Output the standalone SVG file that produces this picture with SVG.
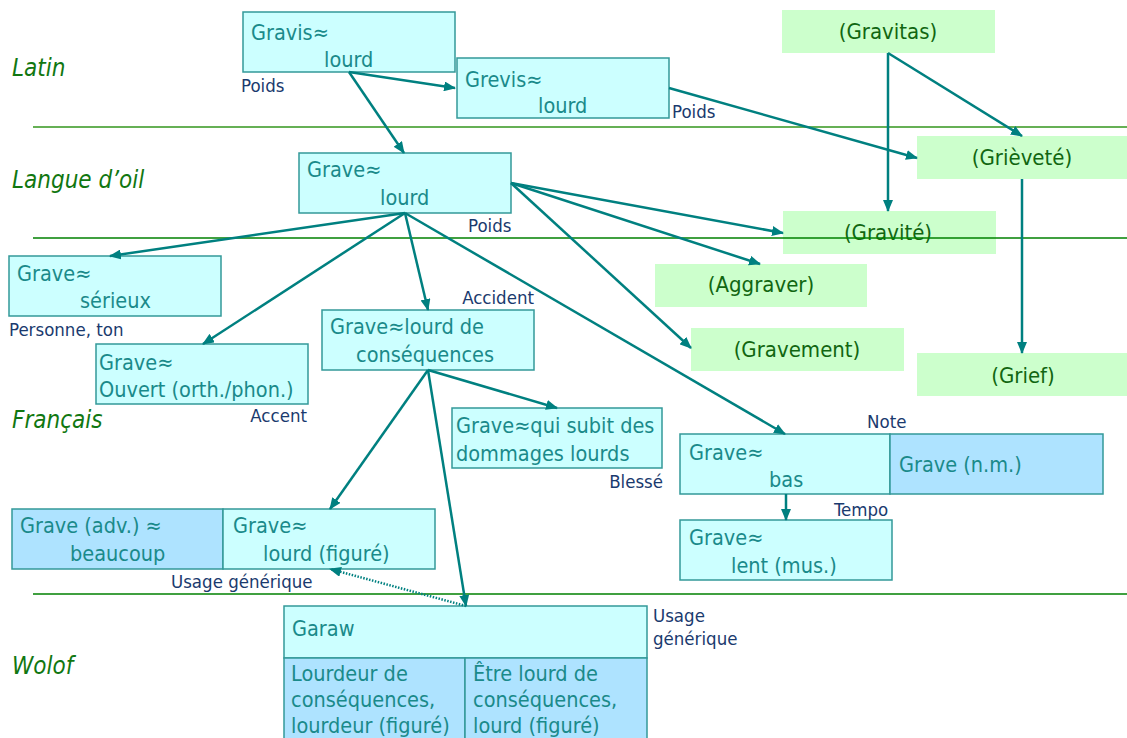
<svg xmlns="http://www.w3.org/2000/svg" width="1127" height="738" viewBox="0 0 1127 738">
  <style>
    .box { fill: #ccffff; stroke: #339999; stroke-width: 1.5; }
    .boxb { fill: #aee3ff; stroke: #339999; stroke-width: 1.5; }
    .gbox { fill: #ccffcc; }
    .t, .g, .lab, .lang { font-family: "DejaVu Sans Condensed", "DejaVu Sans", sans-serif; font-stretch: condensed; }
    .t { font-size: 21.5px; fill: #1a8a8a; }
    .g { font-size: 22px; fill: #116611; text-anchor: middle; }
    .lab { font-size: 18.5px; fill: #1a3a6e; }
    .r { text-anchor: end; }
    .lang { font-size: 24px; font-style: italic; fill: #117711; }
    .arr { stroke: #008080; stroke-width: 2.5; fill: none; marker-end: url(#ah); }
    .dot { stroke: #008080; stroke-width: 2.5; fill: none; stroke-dasharray: 1.5 1.5; marker-end: url(#ah); }
    .sep { stroke: #008000; stroke-width: 1.3; }
    .sep-top { stroke: #66b055; stroke-width: 2; }
  </style>
  <defs>
    <marker id="ah" viewBox="0 0 12 10" refX="11" refY="5" markerWidth="12" markerHeight="10" markerUnits="userSpaceOnUse" orient="auto">
      <path d="M0,0 L12,5 L0,10 z" fill="#008080"/>
    </marker>
  </defs>

  <!-- period labels -->
  <g id="periods">
    <text class="lang" x="12" y="76">Latin</text>
    <text class="lang" x="12" y="188">Langue d’oil</text>
    <text class="lang" x="12" y="428">Français</text>
    <text class="lang" x="12" y="674">Wolof</text>
  </g>

  <!-- derived words (green) -->
  <g id="gravitas"><rect class="gbox" x="782" y="10" width="213" height="43"/><text class="g" x="888" y="39">(Gravitas)</text></g>
  <g id="grievete"><rect class="gbox" x="917" y="136" width="210" height="43"/><text class="g" x="1022" y="165">(Grièveté)</text></g>
  <g id="gravite"><rect class="gbox" x="783" y="211" width="213" height="43"/><text class="g" x="888" y="240">(Gravité)</text></g>
  <g id="aggraver"><rect class="gbox" x="655" y="264" width="212" height="43"/><text class="g" x="761" y="292">(Aggraver)</text></g>
  <g id="gravement"><rect class="gbox" x="691" y="328" width="213" height="43"/><text class="g" x="797" y="357">(Gravement)</text></g>
  <g id="grief"><rect class="gbox" x="917" y="353" width="210" height="43"/><text class="g" x="1023" y="383">(Grief)</text></g>

  <!-- separators -->
  <g id="separators">
    <line class="sep-top" x1="33" y1="127" x2="1127" y2="127"/>
    <line class="sep" x1="33" y1="238" x2="1127" y2="238"/>
    <line class="sep" x1="33" y1="594" x2="1127" y2="594"/>
  </g>

  <!-- sense nodes -->
  <g id="gravis">
    <rect class="box" x="243" y="12" width="212" height="60"/>
    <text class="t" x="251" y="40">Gravis≈</text><text class="t" x="324" y="67">lourd</text>
    <text class="lab" x="241" y="92">Poids</text>
  </g>
  <g id="grevis">
    <rect class="box" x="457" y="58" width="212" height="60"/>
    <text class="t" x="465" y="87">Grevis≈</text><text class="t" x="538" y="113">lourd</text>
    <text class="lab" x="672" y="118">Poids</text>
  </g>
  <g id="grave-oil">
    <rect class="box" x="299" y="153" width="212" height="60"/>
    <text class="t" x="307" y="177">Grave≈</text><text class="t" x="380" y="205">lourd</text>
    <text class="lab" x="468" y="232">Poids</text>
  </g>
  <g id="grave-serieux">
    <rect class="box" x="9" y="256" width="212" height="60"/>
    <text class="t" x="17" y="281">Grave≈</text><text class="t" x="80" y="308">sérieux</text>
    <text class="lab" x="9" y="336">Personne, ton</text>
  </g>
  <g id="grave-ouvert">
    <rect class="box" x="96" y="344" width="212" height="60"/>
    <text class="t" x="99" y="370">Grave≈</text><text class="t" x="99" y="397">Ouvert (orth./phon.)</text>
    <text class="lab r" x="307" y="422">Accent</text>
  </g>
  <g id="grave-consequences">
    <rect class="box" x="322" y="310" width="212" height="60"/>
    <text class="t" x="330" y="334">Grave≈lourd de</text><text class="t" x="356" y="362">conséquences</text>
    <text class="lab r" x="534" y="304">Accident</text>
  </g>
  <g id="grave-dommages">
    <rect class="box" x="452" y="408" width="210" height="60"/>
    <text class="t" x="456" y="433">Grave≈qui subit des</text><text class="t" x="456" y="461">dommages lourds</text>
    <text class="lab r" x="663" y="488">Blessé</text>
  </g>
  <g id="grave-figure">
    <rect class="boxb" x="12" y="509" width="211" height="60"/>
    <rect class="box" x="223" y="509" width="212" height="60"/>
    <text class="t" x="20" y="533">Grave (adv.) ≈</text><text class="t" x="70" y="561">beaucoup</text>
    <text class="t" x="233" y="533">Grave≈</text><text class="t" x="263" y="561">lourd (figuré)</text>
    <text class="lab" x="171" y="588">Usage générique</text>
  </g>
  <g id="grave-bas">
    <rect class="box" x="680" y="434" width="210" height="60"/>
    <rect class="boxb" x="890" y="434" width="213" height="60"/>
    <text class="t" x="689" y="460">Grave≈</text><text class="t" x="769" y="487">bas</text>
    <text class="t" x="899" y="472">Grave (n.m.)</text>
    <text class="lab" x="867" y="428">Note</text>
  </g>
  <g id="grave-lent">
    <rect class="box" x="680" y="520" width="212" height="60"/>
    <text class="t" x="689" y="545">Grave≈</text><text class="t" x="731" y="573">lent (mus.)</text>
    <text class="lab" x="834" y="516">Tempo</text>
  </g>
  <g id="garaw">
    <rect class="box" x="284" y="606" width="363" height="52"/>
    <rect class="boxb" x="284" y="658" width="181" height="85"/>
    <rect class="boxb" x="465" y="658" width="182" height="85"/>
    <text class="t" x="292" y="636">Garaw</text>
    <text class="t" x="291" y="681">Lourdeur de</text><text class="t" x="291" y="707">conséquences,</text><text class="t" x="291" y="733">lourdeur (figuré)</text>
    <text class="t" x="473" y="681">Être lourd de</text><text class="t" x="473" y="707">conséquences,</text><text class="t" x="473" y="733">lourd (figuré)</text>
    <text class="lab" x="653" y="622">Usage</text><text class="lab" x="653" y="645">générique</text>
  </g>

  <!-- connectors -->
  <g id="connectors">
    <line class="arr" x1="349" y1="72" x2="455" y2="88"/>
    <line class="arr" x1="349" y1="72" x2="404" y2="153"/>
    <line class="arr" x1="669" y1="88" x2="917" y2="158"/>
    <line class="arr" x1="888" y1="53" x2="888" y2="211"/>
    <line class="arr" x1="888" y1="53" x2="1022" y2="136"/>
    <line class="arr" x1="1022" y1="179" x2="1022" y2="353"/>
    <line class="arr" x1="511" y1="183" x2="783" y2="233"/>
    <line class="arr" x1="511" y1="183" x2="760" y2="264"/>
    <line class="arr" x1="511" y1="183" x2="691" y2="348"/>
    <line class="arr" x1="405" y1="213" x2="110" y2="256"/>
    <line class="arr" x1="405" y1="213" x2="203" y2="344"/>
    <line class="arr" x1="405" y1="213" x2="428" y2="310"/>
    <line class="arr" x1="405" y1="213" x2="785" y2="434"/>
    <line class="arr" x1="428" y1="370" x2="557" y2="408"/>
    <line class="arr" x1="428" y1="370" x2="330" y2="509"/>
    <line class="arr" x1="428" y1="370" x2="466" y2="606"/>
    <line class="arr" x1="786" y1="494" x2="786" y2="520"/>
    <line class="dot" x1="466" y1="606" x2="330" y2="569"/>
  </g>
</svg>
